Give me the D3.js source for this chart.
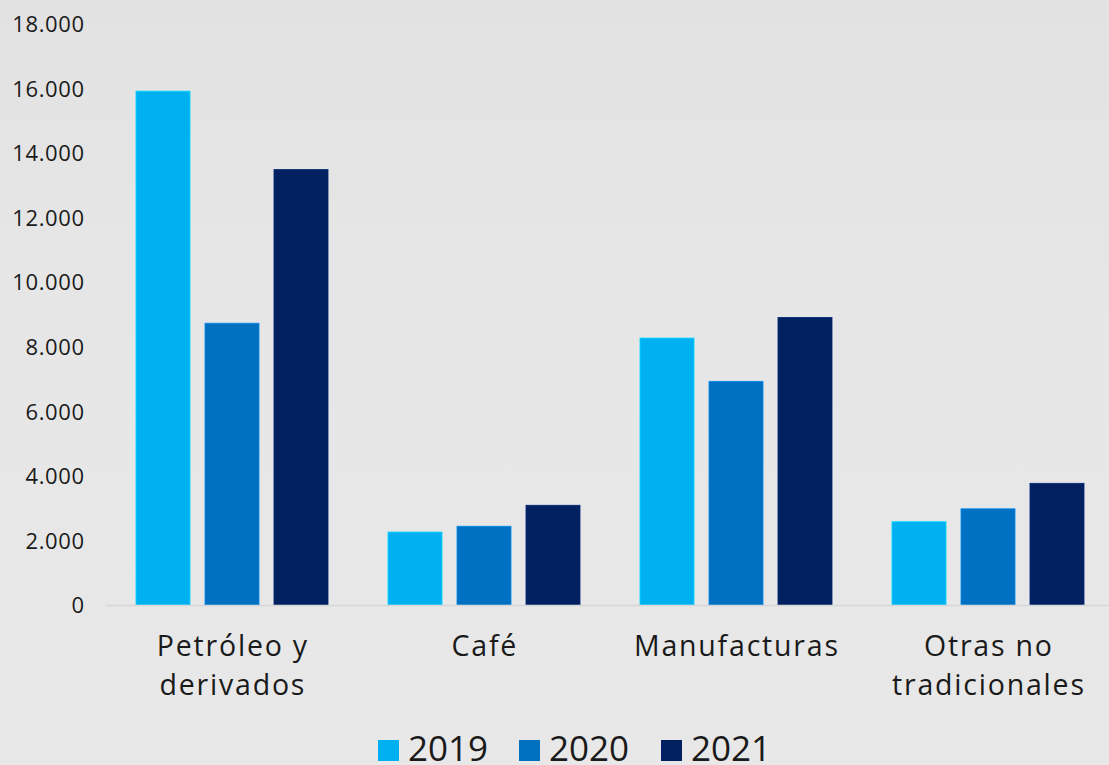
<!DOCTYPE html>
<html><head><meta charset="utf-8">
<script src="https://cdn.jsdelivr.net/npm/d3@7"></script>
<style>html,body{margin:0;padding:0;background:#e8e8e8;}svg{display:block;}</style>
</head><body>
<svg id="chart" width="1109" height="765"></svg>
<script>
const categories = [["Petróleo y","derivados"],["Café"],["Manufacturas"],["Otras no","tradicionales"]];
const years = ["2019","2020","2021"];
const values2019 = [15920, 2260, 8270, 2580];
const values2020 = [8730, 2440, 6930, 2980];
const values2021 = [13490, 3090, 8910, 3770];
const yTicks = [0,2000,4000,6000,8000,10000,12000,14000,16000,18000];
const colors = ["#00b0f0","#0070c0","#002060"];

const series = [values2019, values2020, values2021];
const svg = d3.select("#chart");
const W = 1109, H = 765;
const font = "'Open Sans', sans-serif";

// background
const defs = svg.append("defs");
const grad = defs.append("linearGradient").attr("id","bg").attr("x1",0).attr("y1",0).attr("x2",0).attr("y2",1);
grad.append("stop").attr("offset","0").attr("stop-color","#e2e2e2");
grad.append("stop").attr("offset","0.35").attr("stop-color","#e6e6e6");
grad.append("stop").attr("offset","1").attr("stop-color","#e8e8e8");
svg.append("rect").attr("width",W).attr("height",H).attr("fill","url(#bg)");

const catKeys = categories.map((c,i)=>i);
const x0 = d3.scaleBand().domain(catKeys).range([106,1114]).paddingInner(0.238).paddingOuter(0.119);
const x1 = d3.scaleBand().domain(years).range([0,x0.bandwidth()]).paddingInner(0.217).paddingOuter(0);
const y = d3.scaleLinear().domain([0,18000]).range([605,24]);

// axis
const fmt = d => d3.format(",")(d).replace(/,/g,".");
const yAxis = d3.axisLeft(y).tickValues(yTicks).tickFormat(fmt).tickSize(0).tickPadding(0);
const ga = svg.append("g").attr("transform","translate(84,0)").call(yAxis);
ga.select(".domain").remove();
ga.selectAll("text").attr("font-family",font).attr("font-size",22).attr("fill","#1a1a1a")
  .attr("dy","0.35em").attr("letter-spacing","0.6px").attr("dx","0.6px");

// bars
const g = svg.append("g");
catKeys.forEach(ci=>{
  years.forEach((yr,si)=>{
    const v = series[si][ci];
    g.append("rect")
      .attr("x", x0(ci)+x1(yr))
      .attr("y", y(v))
      .attr("width", x1.bandwidth())
      .attr("height", y(0)-y(v))
      .attr("fill", colors[si])
      .attr("stroke", d3.color(colors[si]).brighter(0.6))
      .attr("stroke-width", 0.8);
  });
});

// baseline
svg.append("line").attr("x1",106).attr("x2",W).attr("y1",y(0)+0.5).attr("y2",y(0)+0.5)
  .attr("stroke","#d6d6d6").attr("stroke-width",1.5);

// category labels
categories.forEach((lines,ci)=>{
  const cx = x0(ci)+x0.bandwidth()/2 + 0.9;
  const t = svg.append("text").attr("text-anchor","middle").attr("font-family",font)
    .attr("font-size",28.5).attr("fill","#1a1a1a").attr("letter-spacing","1.8px");
  lines.forEach((ln,li)=>{
    t.append("tspan").attr("x",cx).attr("y",656+li*39).text(ln);
  });
});

// legend
const legendX = [378,519,661];
years.forEach((yr,i)=>{
  svg.append("rect").attr("x",legendX[i]).attr("y",740).attr("width",21).attr("height",21).attr("fill",colors[i]);
  svg.append("text").attr("x",legendX[i]+30).attr("y",761).attr("font-family",font)
    .attr("font-size",35).attr("fill","#1a1a1a").text(yr);
});
</script>
</body></html>
